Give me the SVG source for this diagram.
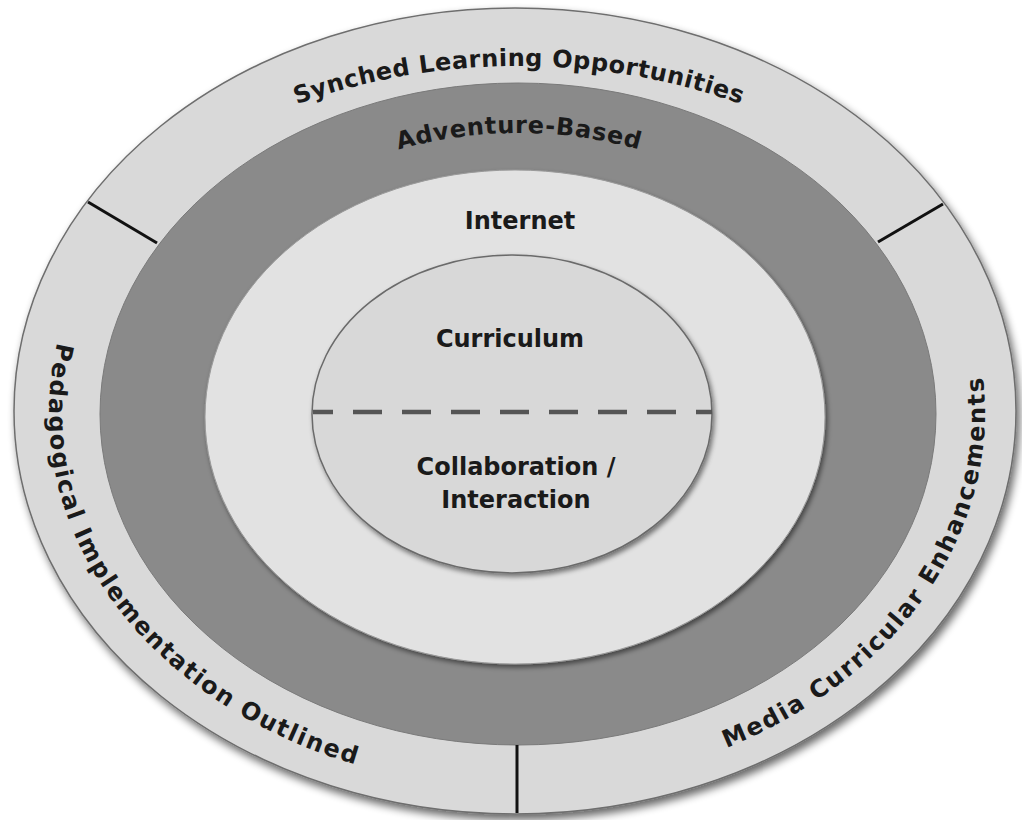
<svg xmlns="http://www.w3.org/2000/svg" xmlns:xlink="http://www.w3.org/1999/xlink" width="1022" height="820" viewBox="0 0 1022 820">
  <defs>
    <filter id="shadow" x="-10%" y="-10%" width="125%" height="125%">
      <feGaussianBlur in="SourceAlpha" stdDeviation="4"/>
      <feOffset dx="3" dy="5" result="b"/>
      <feComponentTransfer><feFuncA type="linear" slope="0.6"/></feComponentTransfer>
      <feMerge><feMergeNode/><feMergeNode in="SourceGraphic"/></feMerge>
    </filter>
    <filter id="shadowSm" x="-10%" y="-10%" width="125%" height="125%">
      <feGaussianBlur in="SourceAlpha" stdDeviation="2.5"/>
      <feOffset dx="2" dy="3" result="b"/>
      <feComponentTransfer><feFuncA type="linear" slope="0.5"/></feComponentTransfer>
      <feMerge><feMergeNode/><feMergeNode in="SourceGraphic"/></feMerge>
    </filter>
    <path id="pTop" d="M 34,411 A 485 345 0 0 1 1004,411"/>
    <path id="pAdv" d="M 164,414 A 355 281 0 0 1 874,414"/>
    <path id="pLeft" d="M 57.3,342.2 A 468 375 0 0 0 356.9,764.9"/>
    <path id="pRight" d="M 728,747.2 A 468 375 0 0 0 982.9,377.2"/>
  </defs>
  <style>
    .lbl { font-family: "DejaVu Sans", "Liberation Sans", sans-serif; font-weight: bold; font-size: 24px; fill: #1a1a1a; }
    .ring-outer { fill: #d9d9d9; stroke: #6e6e6e; stroke-width: 1.5; }
    .ring-dark { fill: #8a8a8a; stroke: #7a7a7a; stroke-width: 1; }
    .ring-internet { fill: #e2e2e2; stroke: #9a9a9a; stroke-width: 1; }
    .core { fill: #d8d8d8; stroke: #6a6a6a; stroke-width: 1.5; }
    .sep { stroke: #111; stroke-width: 3; fill: none; }
    .dash { stroke: #555; stroke-width: 4.5; stroke-dasharray: 29 20; stroke-dashoffset: 9; fill: none; }
  </style>
  <rect width="1022" height="820" fill="#ffffff"/>

  <g id="outer-ring">
    <ellipse class="ring-outer" cx="515" cy="411" rx="501" ry="403" filter="url(#shadow)"/>
  </g>
  <g id="adventure-based">
    <ellipse class="ring-dark" cx="518" cy="414" rx="418" ry="331"/>
    <text class="lbl" letter-spacing="0.7"><textPath href="#pAdv" xlink:href="#pAdv" startOffset="50%" text-anchor="middle">Adventure-Based</textPath></text>
  </g>
  <g id="internet">
    <ellipse class="ring-internet" cx="515" cy="417" rx="310" ry="247" filter="url(#shadowSm)"/>
    <text class="lbl" x="520" y="229" text-anchor="middle">Internet</text>
  </g>
  <g id="core">
    <ellipse class="core" cx="512" cy="414" rx="200" ry="159" filter="url(#shadowSm)"/>
    <text class="lbl" x="510" y="347" text-anchor="middle">Curriculum</text>
    <text class="lbl" x="516" y="475" text-anchor="middle">Collaboration /</text>
    <text class="lbl" x="516" y="508" text-anchor="middle">Interaction</text>
  </g>

  <g id="connectors">
    <line class="sep" x1="88" y1="202" x2="157" y2="243"/>
    <line class="sep" x1="943" y1="204" x2="878" y2="242"/>
    <line class="sep" x1="517" y1="745" x2="517" y2="813"/>
    <line class="dash" x1="313" y1="412" x2="712" y2="412"/>
  </g>

  <g id="synched-learning">
    <text class="lbl" letter-spacing="0.5"><textPath href="#pTop" xlink:href="#pTop" startOffset="50%" text-anchor="middle">Synched Learning Opportunities</textPath></text>
  </g>
  <g id="pedagogical">
    <text class="lbl" letter-spacing="1.7"><textPath href="#pLeft" xlink:href="#pLeft" startOffset="50%" text-anchor="middle">Pedagogical Implementation Outlined</textPath></text>
  </g>
  <g id="media">
    <text class="lbl" letter-spacing="1.9"><textPath href="#pRight" xlink:href="#pRight" startOffset="50%" text-anchor="middle">Media Curricular Enhancements</textPath></text>
  </g>
</svg>
